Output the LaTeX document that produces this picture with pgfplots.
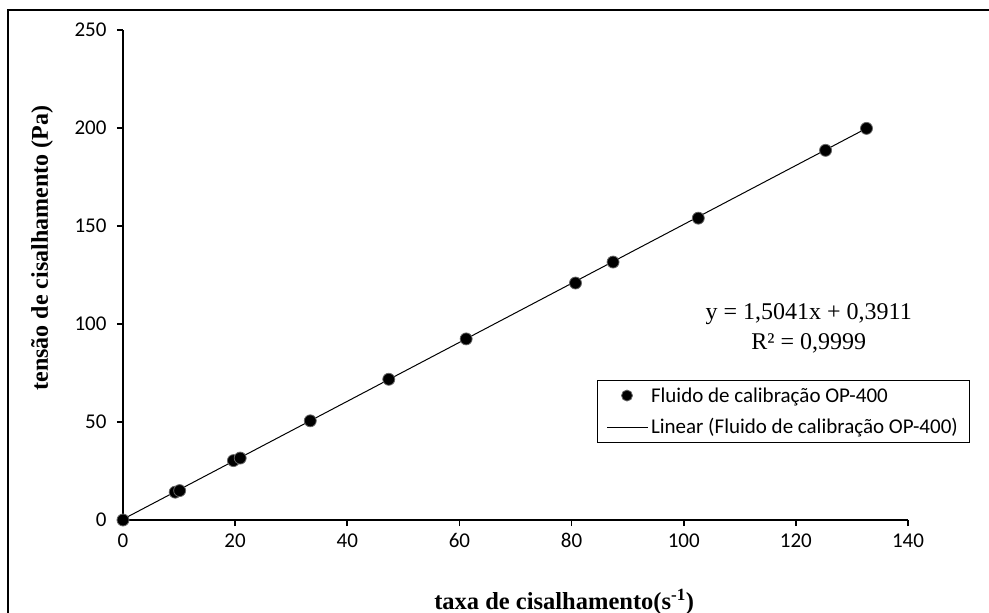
\documentclass[border=0pt]{standalone}
\usepackage{fontspec}
\setmainfont{Carlito}
\newfontfamily\tnr{Liberation Serif}
\usepackage{pgfplots}
\pgfplotsset{compat=1.18}
\pgfplotsset{
  scatlegend/.style={legend image code/.code={\path[draw=none,fill=none] (0pt,0pt) -- (41pt,0pt); \draw[##1, mark size=5.5pt] plot coordinates {(20pt,0pt)};}},
  linelegend/.style={legend image code/.code={\draw[##1] (0pt,0pt) -- (41pt,0pt);}},
}
\begin{document}
\begin{tikzpicture}[x=1pt,y=1pt]
\path[use as bounding box] (-123,-93) rectangle (866,520);
\begin{axis}[
  at={(0,0)}, anchor=south west,
  width=785pt, height=490pt, scale only axis,
  xmin=0, xmax=140, ymin=0, ymax=250,
  xtick={0,20,...,140}, ytick={0,50,...,250},
  axis x line*=bottom, axis y line*=left,
  axis line style={line width=1.6pt,-},
  tick style={line width=1.6pt, black},
  tick align=outside, major tick length=6pt,
  ticklabel style={font=\fontsize{21}{25}\selectfont},
  /pgf/number format/assume math mode=true,
  xticklabel style={yshift=-4pt},
  yticklabel style={xshift=-7pt},
  clip=false,
  xlabel={\tnr\bfseries\fontsize{24.5}{29}\selectfont taxa de cisalhamento(s\textsuperscript{-1})},
  xlabel style={at={(axis description cs:0.562,-0.167)}, anchor=center},
  ylabel={\tnr\bfseries\fontsize{24}{29}\selectfont tensão de cisalhamento (Pa)},
  ylabel style={at={(axis description cs:-0.103,0.555)}, anchor=center},
  legend style={at={(axis description cs:1.079,0.286)}, anchor=north east,
    draw=black, line width=1.3pt, font=\fontsize{21}{25}\selectfont,
    row sep=11pt, inner xsep=9pt, inner ysep=5pt,
    nodes={inner xsep=2.5pt, inner ysep=2pt}},
  legend cell align=left,
]
\addplot[only marks, mark=*, mark size=6pt, mark options={fill=black, draw=black!60, line width=0.8pt}, scatlegend] coordinates {
(0,0) (9.3,14.2) (10.1,15.0) (19.7,30.3) (20.9,31.6) (33.4,50.6) (47.4,71.8)
(61.2,92.4) (80.7,120.9) (87.4,131.6) (102.6,154.0) (125.3,188.6) (132.6,199.8)
};
\addlegendentry{Fluido de calibração OP-400}
\addplot[black, line width=1pt, no marks, linelegend] coordinates {(0,0.3911) (132.6,199.83)};
\addlegendentry{Linear (Fluido de calibração OP-400)}
\node[font=\tnr\fontsize{24}{30}\selectfont, align=center] at (axis cs:122.3,98) {y = 1,5041x + 0,3911\\R² = 0,9999};
\end{axis}
\draw[line width=2pt] (-115,-93) -- (-115,510) -- (866,510);
\end{tikzpicture}
\end{document}
